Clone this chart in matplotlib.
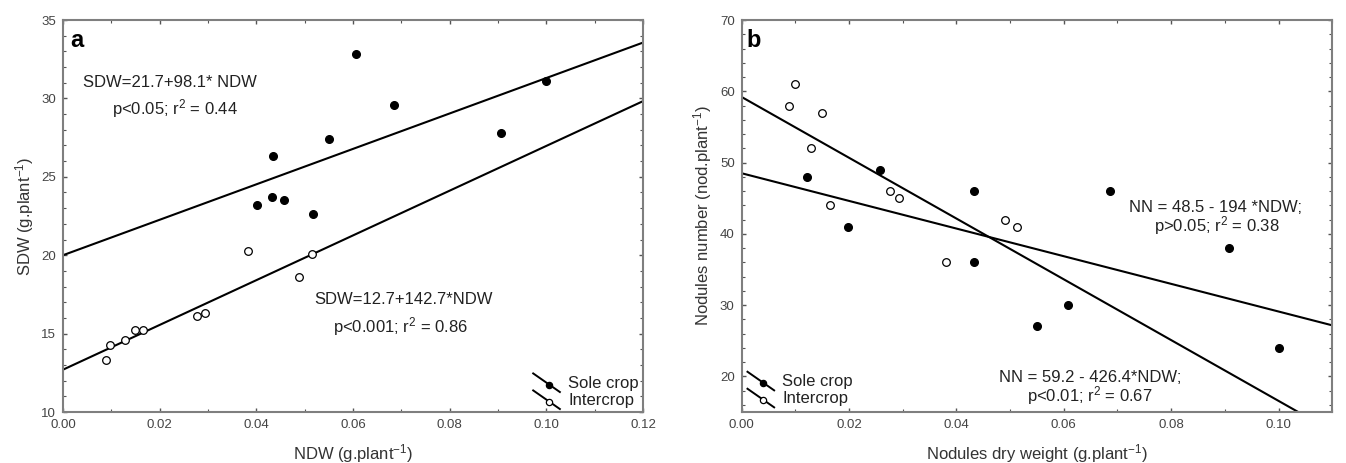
import numpy as np
import matplotlib
matplotlib.use("Agg")
import matplotlib.pyplot as plt
from matplotlib.lines import Line2D
from matplotlib.legend_handler import HandlerBase
from matplotlib.ticker import MultipleLocator

plt.rcParams['font.family'] = ['Liberation Sans', 'DejaVu Sans']
plt.rcParams['mathtext.fontset'] = 'custom'
plt.rcParams['mathtext.rm'] = 'Liberation Sans'
plt.rcParams['mathtext.it'] = 'Liberation Sans:italic'

# Panel a : NDW vs SDW
a_sole_x = [0.0401, 0.0433, 0.0457, 0.0434, 0.0518, 0.0550, 0.0606, 0.0685, 0.0906, 0.0999]
a_sole_y = [23.2, 23.7, 23.5, 26.3, 22.6, 27.4, 32.8, 29.6, 27.8, 31.1]
a_inter_x = [0.0089, 0.0098, 0.0128, 0.0149, 0.0166, 0.0277, 0.0293, 0.0382, 0.0489, 0.0515]
a_inter_y = [13.3, 14.3, 14.6, 15.2, 15.2, 16.1, 16.3, 20.3, 18.6, 20.05]
# intercept, slope of the drawn lines
a_sole_fit = [20.0, 113.0]
a_inter_fit = [12.7, 142.7]

# Panel b : nodules dry weight vs nodules number
b_sole_x = [0.0121, 0.0258, 0.0199, 0.0432, 0.0433, 0.0686, 0.0907, 0.0608, 0.0550, 0.1000]
b_sole_y = [48, 49, 41, 46, 36, 46, 38, 30, 27, 24]
b_inter_x = [0.0089, 0.0099, 0.0149, 0.0129, 0.0165, 0.0276, 0.0293, 0.0491, 0.0512, 0.0380]
b_inter_y = [58, 61, 57, 52, 44, 46, 45, 42, 41, 36]
b_sole_fit = [48.5, -194.0]
b_inter_fit = [59.2, -426.4]


class DiagHandler(HandlerBase):
    # slanted line with a marker, like the Statistica legend
    def create_artists(self, legend, orig_handle, xdescent, ydescent,
                       width, height, fontsize, trans):
        x0, x1 = -xdescent, -xdescent + width
        y0, y1 = -ydescent + height + 2, -ydescent - 3
        ln = Line2D([x0, x1], [y0, y1], color='black', lw=1.4, transform=trans)
        t = 0.6
        mk = Line2D([x0 + t * (x1 - x0)], [y0 + t * (y1 - y0)], ls='none',
                    marker='o', markersize=4.5,
                    markerfacecolor=orig_handle.get_markerfacecolor(),
                    markeredgecolor='black', markeredgewidth=0.9, transform=trans)
        return [ln, mk]


def style_axes(ax, xmaj, xmin, ymaj, ymin):
    ax.xaxis.set_major_locator(MultipleLocator(xmaj))
    ax.xaxis.set_minor_locator(MultipleLocator(xmin))
    ax.yaxis.set_major_locator(MultipleLocator(ymaj))
    ax.yaxis.set_minor_locator(MultipleLocator(ymin))
    ax.tick_params(which='both', direction='in', top=True, right=True,
                   color='#555555', labelcolor='#444444', labelsize=9.5)
    ax.tick_params(which='major', length=3, width=1, pad=5)
    ax.tick_params(which='minor', length=2.5, width=0.8)
    for s in ax.spines.values():
        s.set_color('#7f7f7f')
        s.set_linewidth(1.5)


fig = plt.figure(figsize=(13.46, 4.63), dpi=100)
ax1 = fig.add_axes([0.0468, 0.1101, 0.4309, 0.8467])
ax2 = fig.add_axes([0.5510, 0.1101, 0.4388, 0.8467])

txt = dict(fontsize=12, color='#222222')

# ---- a ----
xl = np.array([0.0, 0.12])
ax1.plot(xl, a_sole_fit[0] + a_sole_fit[1] * xl, color='black', lw=1.5, zorder=2)
ax1.plot(xl, a_inter_fit[0] + a_inter_fit[1] * xl, color='black', lw=1.5, zorder=2)
ax1.plot(a_sole_x, a_sole_y, 'o', color='black', markersize=5.5, zorder=3)
ax1.plot(a_inter_x, a_inter_y, 'o', markerfacecolor='white', markeredgecolor='black',
         markeredgewidth=0.9, markersize=5.5, zorder=3)
ax1.set_xlim(0, 0.12)
ax1.set_ylim(10, 35)
ax1.xaxis.set_major_formatter(matplotlib.ticker.FormatStrFormatter('%.2f'))
style_axes(ax1, 0.02, 0.01, 5, 1)
ax1.set_xlabel('NDW (g.plant$^{-1}$)', fontsize=12, color='#333333', labelpad=8)
ax1.set_ylabel('SDW (g.plant$^{-1}$)', fontsize=12, color='#333333', labelpad=4)
ax1.text(0.013, 0.932, 'a', transform=ax1.transAxes, fontsize=17, fontweight='bold')
ax1.text(0.184, 0.828, 'SDW=21.7+98.1* NDW', transform=ax1.transAxes, ha='center', **txt)
ax1.text(0.193, 0.758, 'p<0.05; r$^2$ = 0.44', transform=ax1.transAxes, ha='center', **txt)
ax1.text(0.588, 0.276, 'SDW=12.7+142.7*NDW', transform=ax1.transAxes, ha='center', **txt)
ax1.text(0.582, 0.203, 'p<0.001; r$^2$ = 0.86', transform=ax1.transAxes, ha='center', **txt)

h_sole = Line2D([], [], color='black', marker='o', markerfacecolor='black')
h_inter = Line2D([], [], color='black', marker='o', markerfacecolor='white')
ax1.legend([h_sole, h_inter], ['Sole crop', 'Intercrop'], loc='lower right',
           handler_map={Line2D: DiagHandler()}, frameon=False, fontsize=12,
           handlelength=1.6, handletextpad=0.5, labelspacing=0.12,
           borderpad=0.0, borderaxespad=0.25, labelcolor='#222222')

# ---- b ----
xl2 = np.array([0.0, 0.11])
ax2.plot(xl2, b_sole_fit[0] + b_sole_fit[1] * xl2, color='black', lw=1.5, zorder=2)
ax2.plot(xl2, b_inter_fit[0] + b_inter_fit[1] * xl2, color='black', lw=1.5, zorder=2)
ax2.plot(b_sole_x, b_sole_y, 'o', color='black', markersize=5.5, zorder=3)
ax2.plot(b_inter_x, b_inter_y, 'o', markerfacecolor='white', markeredgecolor='black',
         markeredgewidth=0.9, markersize=5.5, zorder=3)
ax2.set_xlim(0, 0.11)
ax2.set_ylim(15, 70)
ax2.xaxis.set_major_formatter(matplotlib.ticker.FormatStrFormatter('%.2f'))
style_axes(ax2, 0.02, 0.01, 10, 2)
ax2.set_xlabel('Nodules dry weight (g.plant$^{-1}$)', fontsize=12, color='#333333', labelpad=8)
ax2.set_ylabel('Nodules number (nod.plant$^{-1}$)', fontsize=12, color='#333333', labelpad=4)
ax2.text(0.0085, 0.932, 'b', transform=ax2.transAxes, fontsize=17, fontweight='bold')
ax2.text(0.803, 0.509, 'NN = 48.5 - 194 *NDW;', transform=ax2.transAxes, ha='center', **txt)
ax2.text(0.805, 0.460, 'p>0.05; r$^2$ = 0.38', transform=ax2.transAxes, ha='center', **txt)
ax2.text(0.590, 0.077, 'NN = 59.2 - 426.4*NDW;', transform=ax2.transAxes, ha='center', **txt)
ax2.text(0.590, 0.026, 'p<0.01; r$^2$ = 0.67', transform=ax2.transAxes, ha='center', **txt)
ax2.legend([h_sole, h_inter], ['Sole crop', 'Intercrop'], loc='lower left',
           handler_map={Line2D: DiagHandler()}, frameon=False, fontsize=12,
           handlelength=1.6, handletextpad=0.5, labelspacing=0.12,
           borderpad=0.0, borderaxespad=0.35, labelcolor='#222222')

fig.savefig('out.png', dpi=100)
